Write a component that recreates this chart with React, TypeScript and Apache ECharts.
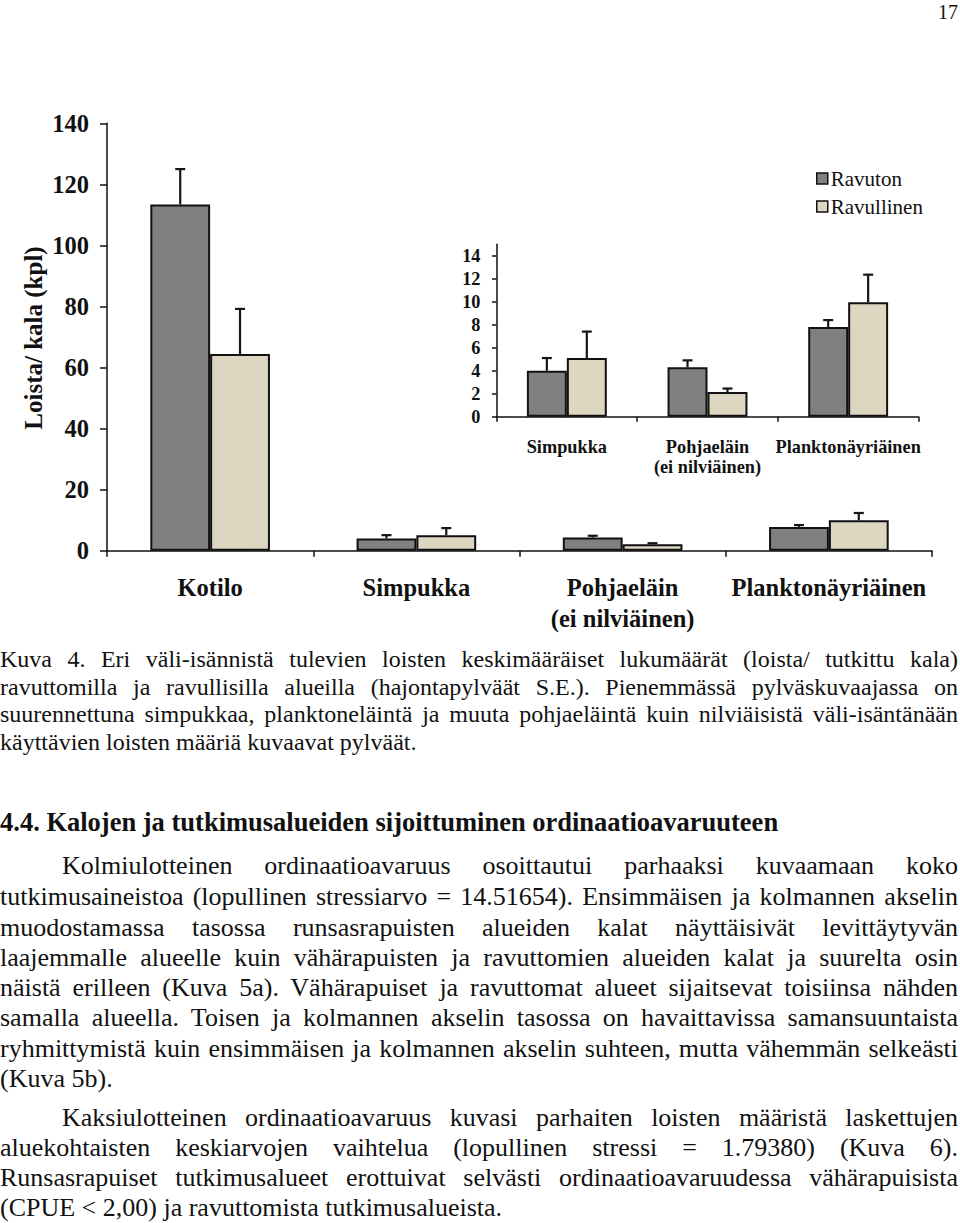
import React, { useEffect, useRef } from "react";
import * as echarts from "echarts";

const mainCategories = ["Kotilo", "Simpukka", "Pohjaeläin\n(ei nilviäinen)", "Planktonäyriäinen"];
const insetCategories = ["Simpukka", "Pohjaeläin\n(ei nilviäinen)", "Planktonäyriäinen"];
const ravuton = [113.4, 4.0, 4.3, 7.8];
const ravutonSE = [11.6, 1.1, 0.6, 0.6];
const ravullinen = [64.4, 5.1, 2.15, 9.95];
const ravullinenSE = [14.8, 2.3, 0.3, 2.4];
const mainTicks = [0, 20, 40, 60, 80, 100, 120, 140];
const insetTicks = [0, 2, 4, 6, 8, 10, 12, 14];

const captionLines = [
  "Kuva 4. Eri väli-isännistä tulevien loisten keskimääräiset lukumäärät (loista/ tutkittu kala)",
  "ravuttomilla ja ravullisilla alueilla (hajontapylväät S.E.). Pienemmässä pylväskuvaajassa on",
  "suurennettuna simpukkaa, planktoneläintä ja muuta pohjaeläintä kuin nilviäisistä väli-isäntänään",
  "käyttävien loisten määriä kuvaavat pylväät.",
];
const heading = "4.4. Kalojen ja tutkimusalueiden sijoittuminen ordinaatioavaruuteen";
const bodyLines = [
  "Kolmiulotteinen ordinaatioavaruus osoittautui parhaaksi kuvaamaan koko",
  "tutkimusaineistoa (lopullinen stressiarvo = 14.51654). Ensimmäisen ja kolmannen akselin",
  "muodostamassa tasossa runsasrapuisten alueiden kalat näyttäisivät levittäytyvän",
  "laajemmalle alueelle kuin vähärapuisten ja ravuttomien alueiden kalat ja suurelta osin",
  "näistä erilleen (Kuva 5a). Vähärapuiset ja ravuttomat alueet sijaitsevat toisiinsa nähden",
  "samalla alueella. Toisen ja kolmannen akselin tasossa on havaittavissa samansuuntaista",
  "ryhmittymistä kuin ensimmäisen ja kolmannen akselin suhteen, mutta vähemmän selkeästi",
  "(Kuva 5b).",
  "Kaksiulotteinen ordinaatioavaruus kuvasi parhaiten loisten määristä laskettujen",
  "aluekohtaisten keskiarvojen vaihtelua (lopullinen stressi = 1.79380) (Kuva 6).",
  "Runsasrapuiset tutkimusalueet erottuivat selvästi ordinaatioavaruudessa vähärapuisista",
  "(CPUE < 2,00) ja ravuttomista tutkimusalueista.",
];
const captionY = [659, 687, 714, 742];
const bodyY = [866, 897, 928, 958, 988, 1018, 1049, 1079, 1118, 1148, 1178, 1208];
const bodyIndent = [true, false, false, false, false, false, false, false, true, false, false, false];
const bodyLast = [false, false, false, false, false, false, false, true, false, false, false, true];

const FONT = "'Liberation Serif', 'Times New Roman', serif";
const DARK = "#808080";
const LIGHT = "#ddd7c1";

function errSeries(name: string, xAxisIndex: number, yAxisIndex: number, vals: number[], ses: number[], sign: number, frac: number, cap: number) {
  return {
    type: "custom",
    name,
    xAxisIndex,
    yAxisIndex,
    silent: true,
    z: 5,
    encode: { x: 0, y: 1 },
    data: vals.map((v, i) => [i, v, v + ses[i]]),
    renderItem: (params: any, api: any) => {
      const idx = api.value(0);
      const v = api.value(1);
      const top = api.value(2);
      const p0 = api.coord([idx, v]);
      const p1 = api.coord([idx, top]);
      const bw = api.size([1, 0])[0] * frac;
      const x = p0[0] + (sign * bw) / 2;
      const st = { stroke: "#161616", lineWidth: 2.2 };
      return {
        type: "group",
        children: [
          { type: "line", shape: { x1: x, y1: p0[1], x2: x, y2: p1[1] }, style: st },
          { type: "line", shape: { x1: x - cap, y1: p1[1], x2: x + cap, y2: p1[1] }, style: st },
        ],
      };
    },
  };
}

function Chart() {
  const ref = useRef<HTMLDivElement>(null);
  useEffect(() => {
    if (!ref.current) return;
    const chart = echarts.init(ref.current, null, { renderer: "svg" });
    const axisLine = { show: true, lineStyle: { color: "#111", width: 1.5 } };
    const mainFrac = 0.29;
    const insetFrac = 0.284;
    chart.setOption({
      animation: false,
      backgroundColor: "#ffffff",
      legend: {
        orient: "vertical",
        left: 811,
        top: 163,
        itemWidth: 11,
        itemHeight: 11,
        itemGap: 7,
        icon: "rect",
        data: ["Ravuton", "Ravullinen"],
        itemStyle: { borderWidth: 1.5, borderColor: "#111" },
        textStyle: { fontFamily: FONT, fontSize: 21, color: "#111", lineHeight: 21, padding: [0, 0, 0, -2] },
      },
      grid: [
        { left: 107, top: 123.3, width: 825, height: 427.4 },
        { left: 496.5, top: 244.2, width: 422, height: 172.5 },
      ],
      xAxis: [
        {
          type: "category",
          gridIndex: 0,
          data: mainCategories,
          axisLine,
          axisTick: { show: true, length: 6, lineStyle: { color: "#111", width: 1.5 } },
          axisLabel: { interval: 0, margin: 21, fontFamily: FONT, fontSize: 24.5, fontWeight: "bold", color: "#111", lineHeight: 31 },
        },
        {
          type: "category",
          gridIndex: 1,
          data: insetCategories,
          axisLine,
          axisTick: { show: true, length: 5, lineStyle: { color: "#111", width: 1.5 } },
          axisLabel: { interval: 0, margin: 20, fontFamily: FONT, fontSize: 18.3, fontWeight: "bold", color: "#111", lineHeight: 20 },
        },
      ],
      yAxis: [
        {
          type: "value",
          gridIndex: 0,
          min: 0,
          max: 140,
          interval: 20,
          splitLine: { show: false },
          axisLine,
          axisTick: { show: true, length: 7, customValues: mainTicks, lineStyle: { color: "#111", width: 1.5 } },
          axisLabel: { margin: 18, customValues: mainTicks, fontFamily: FONT, fontSize: 24.5, fontWeight: "bold", color: "#111" },
        },
        {
          type: "value",
          gridIndex: 1,
          min: 0,
          max: 15,
          interval: 1,
          splitLine: { show: false },
          axisLine,
          axisTick: { show: true, length: 4.5, customValues: insetTicks, lineStyle: { color: "#111", width: 1.5 } },
          axisLabel: { margin: 16, customValues: insetTicks, fontFamily: FONT, fontSize: 18.3, fontWeight: "bold", color: "#111" },
        },
      ],
      graphic: [
        {
          type: "text",
          x: 33,
          y: 338,
          rotation: Math.PI / 2,
          style: {
            text: "Loista/ kala (kpl)",
            fontFamily: FONT,
            fontSize: 25,
            fontWeight: "bold",
            fill: "#111",
            textAlign: "center",
            textVerticalAlign: "middle",
          },
        },
      ],
      series: [
        {
          type: "bar",
          name: "Ravuton",
          xAxisIndex: 0,
          yAxisIndex: 0,
          data: ravuton,
          barWidth: mainFrac * 100 + "%",
          barGap: "0%",
          itemStyle: { color: DARK, borderColor: "#111", borderWidth: 2 },
        },
        {
          type: "bar",
          name: "Ravullinen",
          xAxisIndex: 0,
          yAxisIndex: 0,
          data: ravullinen,
          barWidth: mainFrac * 100 + "%",
          barGap: "0%",
          itemStyle: { color: LIGHT, borderColor: "#111", borderWidth: 2 },
        },
        {
          type: "bar",
          name: "Ravuton",
          xAxisIndex: 1,
          yAxisIndex: 1,
          data: ravuton.slice(1),
          barWidth: insetFrac * 100 + "%",
          barGap: "0%",
          itemStyle: { color: DARK, borderColor: "#111", borderWidth: 2 },
        },
        {
          type: "bar",
          name: "Ravullinen",
          xAxisIndex: 1,
          yAxisIndex: 1,
          data: ravullinen.slice(1),
          barWidth: insetFrac * 100 + "%",
          barGap: "0%",
          itemStyle: { color: LIGHT, borderColor: "#111", borderWidth: 2 },
        },
        errSeries("e1", 0, 0, ravuton, ravutonSE, -1, mainFrac, 5),
        errSeries("e2", 0, 0, ravullinen, ravullinenSE, 1, mainFrac, 5),
        errSeries("e3", 1, 1, ravuton.slice(1), ravutonSE.slice(1), -1, insetFrac, 5),
        errSeries("e4", 1, 1, ravullinen.slice(1), ravullinenSE.slice(1), 1, insetFrac, 5),
      ],
    });
    return () => chart.dispose();
  }, []);
  return <div ref={ref} style={{ position: "absolute", left: 0, top: 0, width: 960, height: 640 }} />;
}

function Line(props: { text: string; y: number; size: number; lh: number; justify: boolean; indent?: number; bold?: boolean }) {
  const { text, y, size, lh, justify, indent = 0, bold = false } = props;
  return (
    <div
      style={{
        position: "absolute",
        left: indent,
        width: 958 - indent,
        top: y - lh / 2,
        height: lh,
        lineHeight: lh + "px",
        fontSize: size,
        fontFamily: FONT,
        fontWeight: bold ? "bold" : "normal",
        color: "#111",
        whiteSpace: "nowrap",
        textAlign: justify ? "justify" : "left",
        textAlignLast: justify ? "justify" : "left",
      } as React.CSSProperties}
    >
      {text}
    </div>
  );
}

export default function App() {
  return (
    <div style={{ position: "absolute", left: 0, top: 0, width: 960, height: 1223, background: "#fff", overflow: "hidden" }}>
      <Chart />
      <div style={{ position: "absolute", right: 2, top: 1, lineHeight: "22px", fontFamily: FONT, fontSize: 20, color: "#111" }}>17</div>
      {captionLines.map((t, i) => (
        <Line key={"c" + i} text={t} y={captionY[i]} size={24} lh={28} justify={i < captionLines.length - 1} />
      ))}
      <Line text={heading} y={822} size={26.5} lh={30} justify={false} bold />
      {bodyLines.map((t, i) => (
        <Line key={"b" + i} text={t} y={bodyY[i]} size={26} lh={30} justify={!bodyLast[i]} indent={bodyIndent[i] ? 62 : 0} />
      ))}
    </div>
  );
}
